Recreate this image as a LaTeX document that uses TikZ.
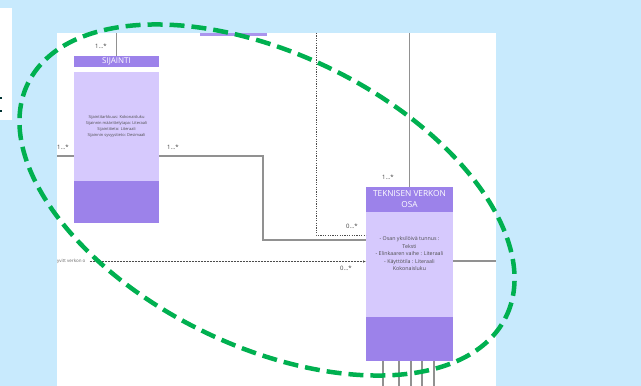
\documentclass[tikz,border=0pt]{standalone}
\usepackage{fontspec}
\setmainfont{Open Sans}
\usetikzlibrary{arrows.meta}

\definecolor{skyback}{RGB}{200,234,253}
\definecolor{headpurple}{RGB}{156,130,234}
\definecolor{bodypurple}{RGB}{214,201,253}
\definecolor{linegray}{RGB}{145,145,145}
\definecolor{markgreen}{RGB}{0,176,80}

\tikzset{
  classhead/.style={fill=headpurple, text=white, inner sep=0pt, outer sep=0pt, align=center},
  classbody/.style={fill=bodypurple, inner sep=0pt, outer sep=0pt},
  classfoot/.style={fill=headpurple, inner sep=0pt, outer sep=0pt},
  attrtext/.style={text=black!70, inner sep=0pt, align=center},
  assoc/.style={draw=linegray, line width=1.4pt},
  mult/.style={font=\fontsize{6}{7}\selectfont, text=black!75, inner sep=0pt},
}

\begin{document}
\begin{tikzpicture}[x=1pt, y=-1pt]

    % Background and paper
    \fill[skyback] (0,0) rectangle (641,386);
    \useasboundingbox (0,0) rectangle (641,386);
    \fill[white] (0,8) rectangle (12,120);
    \fill[black!60!teal] (0,97) rectangle (2,99);
    \fill[black!60!teal] (0,110) rectangle (2,112);
    \fill[white] (57,33) rectangle (496,386);
    \fill[headpurple!85] (200,33) rectangle (267,36);

    % SIJAINTI class
    \node[classhead, minimum width=85pt, minimum height=11pt,
          font=\fontsize{8}{9}\selectfont] (sijHead) at (116.5,61.5) {SIJAINTI};
    \node[classbody, minimum width=85pt, minimum height=109pt] (sijBody) at (116.5,126.5) {};
    \node[classfoot, minimum width=85pt, minimum height=42pt] (sijFoot) at (116.5,202) {};
    \node[attrtext, font=\fontsize{4}{6}\selectfont] (sijAttr) at (sijBody) {%
        Sijaintitarkkuus: Kokonaisluku\\
        Sijainnin määrittelytapa: Literaali\\
        Sijaintitieto: Literaali\\
        Sijainnin syvyystieto: Desimaali};

    % TEKNISEN VERKON OSA class
    \node[classhead, minimum width=87pt, minimum height=25pt,
          font=\fontsize{8.3}{11}\selectfont] (tekHead) at (409.5,199.5) {TEKNISEN VERKON\\OSA};
    \node[classbody, minimum width=87pt, minimum height=105pt] (tekBody) at (409.5,264.5) {};
    \node[classfoot, minimum width=87pt, minimum height=44pt] (tekFoot) at (409.5,339) {};
    \node[attrtext, font=\fontsize{5.3}{7.5}\selectfont] (tekAttr) at (409.5,254) {%
        - Osan yksilöivä tunnus :\\
        Teksti\\
        - Elinkaaren vaihe : Literaali\\
        - Käyttötila : Literaali\\
        Kokonaisluku};

    % loose ends of the connectors
    \coordinate (topA) at (116.5,33);
    \coordinate (leftA) at (57,156);
    \coordinate (bendA) at (263,240);
    \coordinate (topB) at (409.5,33);
    \coordinate (topC) at (316,33);
    \coordinate (dotC) at (316,235);
    \coordinate (rightA) at (496,261);
    \node[text=black!60, inner sep=0pt, anchor=west,
          font=\fontsize{4.5}{5}\selectfont] (relLabel) at (57,261.5) {yvitt verkon o};

    % connectors
    \draw[assoc] (topA) -- (sijHead.north);
    \draw[assoc] (leftA) -- (leftA -| sijBody.west);
    \draw[assoc] (leftA -| sijBody.east) -- (bendA |- leftA) -- (bendA) -- (bendA -| tekBody.west);
    \draw[assoc] (topB) -- (tekHead.north);
    \draw[black!70, line width=0.6pt, dash pattern=on 1.2pt off 1.2pt]
        (topC) -- (dotC) -- (dotC -| tekBody.west);
    \draw[black!70, line width=0.6pt, dash pattern=on 2pt off 1pt, -{Latex[length=3pt,width=2.5pt]}]
        ([xshift=4pt]relLabel.east) -- (relLabel.east -| tekBody.west);
    \draw[assoc] (rightA -| tekBody.east) -- (rightA);
    \foreach \x in {383,399,411,422,434}
        \draw[assoc] (\x,361) -- (\x,386);

    % multiplicities
    \node[mult] (mTopA) at (101,46) {1...*};
    \node[mult] (mLeftA) at (63,147) {1...*};
    \node[mult] (mRightA) at (173,147) {1...*};
    \node[mult] (mTopB) at (388,177) {1...*};
    \node[mult] (mDotC) at (352,226) {0...*};
    \node[mult] (mRel) at (346,268) {0...*};

    % highlight
    \draw[markgreen, line width=4.5pt, dash pattern=on 15pt off 7pt]
        (267,200) ellipse [x radius=266pt, y radius=146pt, rotate=-26];

\end{tikzpicture}
\end{document}
